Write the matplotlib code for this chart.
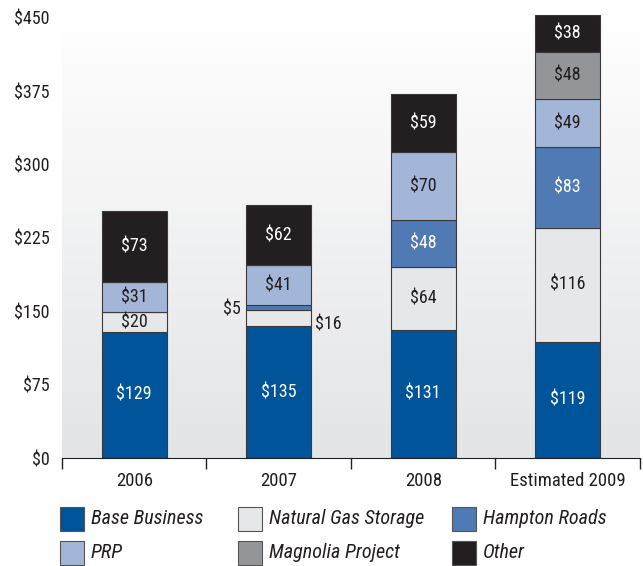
import numpy as np
import matplotlib.pyplot as plt
from matplotlib.colors import LinearSegmentedColormap
from matplotlib.patches import Rectangle

plt.rcParams['font.family'] = ['Roboto Condensed', 'Archivo Narrow', 'DejaVu Sans']

years = ["2006", "2007", "2008", "Estimated 2009"]
series = ["Base Business", "Natural Gas Storage", "Hampton Roads", "PRP", "Magnolia Project", "Other"]
base_business = [129, 135, 131, 119]
natural_gas_storage = [20, 16, 64, 116]
hampton_roads = [0, 5, 48, 83]
prp = [31, 41, 70, 49]
magnolia = [0, 0, 0, 48]
other = [73, 62, 59, 38]
yticks = [0, 75, 150, 225, 300, 375, 450]

values = [base_business, natural_gas_storage, hampton_roads, prp, magnolia, other]
colors = ["#00559a", "#e6e7e9", "#4f7ab3", "#a3b6d7", "#939598", "#231f20"]
text_colors = ["white", "#231f20", "white", "#231f20", "#231f20", "white"]
dark = "#231f20"

fig = plt.figure(figsize=(6.43, 5.66), dpi=100)
ax = fig.add_axes([0.0964, 0.1908, 0.8989, 0.7861])

# vertical gradient background
grad = np.linspace(0, 1, 256).reshape(-1, 1)
ax.imshow(grad, extent=[0, 4, 0, 455], aspect="auto", origin="lower",
          cmap=LinearSegmentedColormap.from_list("bg", ["#e3e4e6", "#ffffff"]), zorder=0)

x = np.arange(len(years)) + 0.5
bottom = np.zeros(len(years))
for vals, col, tcol in zip(values, colors, text_colors):
    vals = np.array(vals, dtype=float)
    ax.bar(x, vals, width=0.45, bottom=bottom, color=col, edgecolor="#3a3a3a",
           linewidth=0.8, zorder=2)
    for xi, b, v in zip(x, bottom, vals):
        if v >= 20:
            ax.text(xi, b + v / 2, f"${int(v)}", ha="center", va="center",
                    color=tcol, fontsize=13, zorder=3)
    bottom += vals

# small labels beside the 2007 bar
ax.text(x[1] - 0.265, base_business[1] + natural_gas_storage[1] + hampton_roads[1] / 2 - 2,
        f"${hampton_roads[1]}", ha="right", va="center", fontsize=13, color=dark)
ax.text(x[1] + 0.25, base_business[1] + natural_gas_storage[1] / 2 - 6,
        f"${natural_gas_storage[1]}", ha="left", va="center", fontsize=13, color=dark)

ax.set_xlim(0, 4)
ax.set_ylim(0, 455)
ax.set_yticks(yticks)
ax.set_yticklabels([f"${t}" for t in yticks], fontsize=13, color=dark)
ax.set_xticks([0, 1, 2, 3, 4])
ax.set_xticklabels([])
ax.set_xticks(x, minor=True)
ax.set_xticklabels(years, minor=True, fontsize=13.5, color=dark)
ax.tick_params(axis="x", which="minor", length=0, pad=10)
ax.tick_params(axis="x", which="major", length=8, width=1, direction="out", color=dark)
ax.tick_params(axis="y", length=0, pad=9)
for s in ["top", "right", "left"]:
    ax.spines[s].set_visible(False)
ax.spines["bottom"].set_color(dark)

# legend laid out in two rows of three, filled row by row
W, H = 643.0, 566.0
col_x = [60, 238, 452]
row_y = [519, 553]
for i, (name, col) in enumerate(zip(series, colors)):
    cx = col_x[i % 3]
    cy = row_y[i // 3]
    fig.add_artist(Rectangle((cx / W, (H - cy - 12) / H), 24 / W, 24 / H,
                             transform=fig.transFigure, facecolor=col,
                             edgecolor="#555555", linewidth=0.8))
    fig.text((cx + 31) / W, (H - cy) / H, name, ha="left", va="center",
             fontsize=14.5, style="italic", color=dark)

fig.savefig("out.png", dpi=100)
